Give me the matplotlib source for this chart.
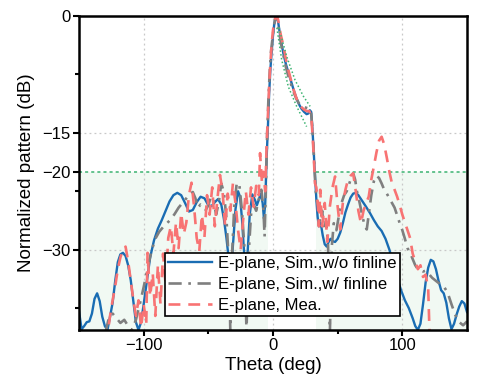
import matplotlib
matplotlib.use("Agg")
import matplotlib.pyplot as plt
import numpy as np

plt.rcParams['font.family'] = ['Liberation Sans', 'DejaVu Sans']

# ---- data ----
theta_blue = [-150,-148,-146,-144,-142,-140,-138,-136,-134,-132,-130,-128,-126,-124,-122,-120,-118,-116,-114,-112,
              -110,-108,-106,-104,-102,-100,-98,-95,-92,-89,-86,-83,-80,-77,-74,-71,-68,-65,-62,-59,-56,-53,-50,-47.5,
              -45,-42.5,-40,-38,-36,-34,-32.5,-31,-29,-27,-25.5,-24,-22.5,-21,-19.5,-18,-16,-14,-12.5,-11,-9.5,-8,-7,-6,
              -5,-4,-3,-2,-1,0,1,2,3,4,5,6,8,10,12,14,16,18,20,22,24,26,27.5,28.5,29.5,30.5,31.5,32.5,33.5,34.5,35.5,
              36.5,37.5,38.5,40,41.5,43,44.5,46,48,50,52,54,56,58,60,62,64,66,68,70,72,75,78,81,84,87,90,93,96,99,102,
              105,108,110,112,114,116,118,120,122,124,126,128,130,132,134,136,138,140,142,144,146,148,150]
db_blue = [-37.9,-40.2,-39.8,-39.3,-39.2,-38.2,-36.3,-35.6,-36.6,-38.6,-39.8,-40.3,-38.6,-36.8,-34.0,-31.6,-30.6,-30.4,-30.8,-32.0,
           -33.9,-36.6,-39.3,-40.3,-39.3,-37.0,-34.6,-31.0,-28.8,-27.3,-26.2,-25.0,-23.8,-23.0,-22.7,-23.0,-24.0,-25.1,-24.9,-23.9,-23.2,-23.4,-24.3,-24.4,
           -23.9,-23.5,-24.2,-26.0,-28.5,-31.5,-33.0,-29.5,-24.8,-22.5,-23.2,-26.0,-30.0,-33.5,-30.0,-25.5,-22.9,-23.6,-24.3,-23.6,-22.8,-24.0,-26.0,-24.0,
           -18.5,-14.5,-10.0,-6.8,-4.5,-2.5,-1.0,-0.2,0.0,-0.8,-1.9,-3.0,-4.8,-6.2,-7.3,-8.4,-9.5,-10.5,-11.3,-11.9,-12.3,-12.6,-12.5,-12.1,-12.3,-14.5,-17.5,-20.5,-23.5,-25.8,-27.0,
           -26.5,-27.2,-28.2,-29.3,-29.6,-29.0,-28.6,-28.9,-29.0,-28.6,-27.8,-26.6,-25.2,-24.2,-23.3,-22.8,-22.7,-23.0,-23.5,-24.0,-24.5,-25.3,-26.2,-27.0,-27.6,-28.6,-30.0,-31.8,-33.6,-35.2,-36.5,
           -37.5,-38.8,-39.8,-40.3,-39.5,-37.0,-34.2,-32.3,-31.3,-31.5,-32.5,-34.0,-35.2,-35.6,-36.8,-38.8,-40.2,-39.5,-38.3,-37.3,-36.6,-36.9,-38.0]

theta_gray = [-150,-130,-127,-124,-121,-118,-115,-112,-109,-106,-103,-100,-97,-94,-91,-88,-85,-82,-79,-76,-73,-70,-67,-64,-62,
              -60,-58,-56,-54,-52,-50,-48,-46,-44,-42,-40,-38,-36,-34,-33,-32,-30,-28,-26,-24,-22,-20.5,-19,-17,-15,-13,-11,-9,
              -7.5,-6.5,-5.5,-4.5,-3.5,-2.5,-1.5,0,1,2,3,4,5,6,8,10,12,14,16,18,20,22,24,26,28,29.5,30.5,31.5,32.5,33.5,35,36.5,
              38,39.5,41,42.5,44,45.5,47,49,51,53,55,57,59,61,62,63.5,65,67,69,71,72.5,74,76,78,80,82,84,86,88,90,92,94,96,98,
              100,102,104,106,108,110,112,114,116,118,120,123,126,129,132,135,138,141,144,147,150]
db_gray = [-41,-41,-38.8,-38.2,-38.8,-39.4,-39.0,-39.8,-40.3,-39.0,-37.0,-34.8,-32.4,-30.2,-28.6,-27.7,-27.1,-26.6,-26.1,-25.4,-24.6,-24.0,-23.4,-22.8,-22.6,
           -23.4,-24.6,-24.2,-24.4,-24.9,-24.3,-23.2,-23.6,-25.5,-24.0,-21.5,-22.6,-26.0,-32.0,-40.5,-32.0,-24.5,-21.4,-21.7,-25.0,-30.0,-40.5,-31.0,-25.5,-24.2,-25.0,-23.5,-22.3,
           -24.5,-28.3,-22.0,-15.0,-10.5,-7.0,-4.5,-2.3,-1.0,-0.2,0.0,-1.0,-2.3,-3.4,-5.0,-6.6,-7.8,-8.8,-9.8,-10.6,-11.2,-11.6,-11.7,-11.8,-11.9,-12.5,-14.5,-17.5,-21.0,-23.5,-24.4,-26.5,
           -25.0,-27.5,-26.3,-29.0,-40.5,-29.5,-26.6,-27.5,-25.6,-24.0,-23.0,-22.5,-21.5,-20.5,-20.2,-21.0,-22.6,-24.0,-25.6,-27.0,-27.4,-25.5,-23.0,-21.2,-20.5,-20.8,-21.5,-22.3,-22.8,-23.4,-24.0,-24.6,-25.6,-26.6,
           -27.5,-28.6,-29.8,-30.4,-31.2,-32.0,-32.5,-32.6,-32.8,-32.7,-33.0,-33.6,-34.0,-34.4,-34.7,-35.5,-37.0,-38.4,-39.3,-39.7,-39.2]

theta_mea = [-150,-128,-126,-124,-122,-120,-118,-116,-114,-112,-110,-108,-106,-104,-102,-100,-98,-97,-95,-93,-91,-89,-87,-85,-83,
             -81,-79,-77,-75,-73,-71,-69,-67,-65,-63,-61,-59,-57,-55,-53,-51,-49,-47,-45,-43,-41,-39,-37,-35,-33,-31,-29,-27,-25,
             -23,-21,-19,-17,-15,-13,-11,-10,-8.5,-7.5,-6,-5,-4,-3,-2,-1,0,1,2,3,4,5,6,8,10,12,14,16,18,20,22,24,26,28,29.5,30.5,
             31.5,32.5,33.5,34.5,35.5,36.5,38,40,42,44,46,48,50,52,54,56,58,60,62,64,66,68,70,72,74,76,78,80,82,84,86,88,90,92,94,
             96,98,100,102,104,106,108,110,112,114,116,118,120,121,123,150]
db_mea = [-41,-41,-38.5,-36.5,-34.7,-32.5,-31.0,-30.0,-29.6,-31.5,-34.0,-36.4,-38.5,-36.5,-40.0,-37.0,-39.5,-30.4,-36.0,-33.0,-38.5,-32.0,-37.0,-30.5,-34.5,
          -28.5,-27.0,-30.5,-26.5,-29.8,-25.3,-28.0,-26.5,-23.0,-21.4,-24.5,-28.5,-30.2,-25.5,-28.4,-23.0,-25.5,-22.0,-27.0,-23.5,-20.4,-22.5,-27.0,-22.8,-25.0,-21.5,-24.0,-27.5,-30.0,
          -26.0,-22.5,-25.5,-22.0,-24.5,-21.8,-23.0,-17.6,-21.5,-20.0,-22.5,-17.0,-13.0,-9.0,-6.0,-3.5,-1.8,-0.8,-0.1,0.0,-0.5,-1.5,-2.4,-3.8,-5.6,-7.0,-8.3,-9.5,-10.5,-11.3,-11.7,-12.0,-12.2,-12.2,-12.8,-15.0,
          -18.0,-21.5,-22.0,-23.8,-27.0,-22.3,-27.0,-24.0,-29.0,-24.4,-22.0,-20.6,-24.5,-27.4,-24.0,-22.3,-21.0,-20.5,-20.2,-22.5,-25.0,-26.6,-25.0,-24.0,-23.2,-21.0,-19.3,-17.5,-16.0,-15.5,-16.5,-18.2,-20.0,-21.5,-22.3,
          -23.2,-24.3,-25.5,-26.5,-27.5,-28.5,-30.5,-31.5,-32.5,-32.0,-33.5,-33.2,-35.0,-40.5,-41,-41]

# envelope guide curves near the main beam
theta_env1 = [3, 6.7, 11.9, 18.3, 26]
db_env1 = [-1.5, -5.6, -9.1, -11.6, -14.2]
theta_env2 = [4.5, 10.6, 17, 23.5, 28.7]
db_env2 = [-1.5, -5.2, -8.2, -10.3, -11.6]

sll_level = -20
beam_gap = (-4, 33)
labels = ['E-plane, Sim.,w/o finline', 'E-plane, Sim.,w/ finline', 'E-plane, Mea.']

# ---- figure ----
fig = plt.figure(figsize=(5.0, 3.81), dpi=100)
ax = fig.add_axes([0.158, 0.134, 0.776, 0.824])
xlo, xhi, ylo, yhi = -150, 150, -40.3, 0

# shaded low-sidelobe region
green = '#3cb371'
for a, b in [(xlo, beam_gap[0]), (beam_gap[1], xhi)]:
    ax.fill_between([a, b], [ylo, ylo], [sll_level, sll_level], color='#f1f9f3', zorder=0, lw=0)
    ax.plot([a, b], [sll_level, sll_level], color=green, ls=(0, (2, 2)), lw=1.1, zorder=1)

# grid
for gx in [-100, 0, 100]:
    ax.axvline(gx, color='#c8c8c8', ls=(0, (1.5, 2.5)), lw=0.9, zorder=0.5)
for gy in [-15, -30]:
    ax.axhline(gy, color='#c8c8c8', ls=(0, (1.5, 2.5)), lw=0.9, zorder=0.5)

l1, = ax.plot(theta_blue, db_blue, color='#1a6db3', lw=1.7, zorder=3, label=labels[0])
l2, = ax.plot(theta_gray, db_gray, color='#7f7f7f', lw=1.9, ls=(0, (5, 2.5, 1, 2.5)), zorder=3, label=labels[1])
l3, = ax.plot(theta_mea, db_mea, color='#f87373', lw=1.9, ls=(0, (4.5, 3.0)), zorder=3, label=labels[2])
ax.plot(theta_env1, db_env1, color=green, ls=(0, (1, 1.5)), lw=1.1, zorder=4)
ax.plot(theta_env2, db_env2, color=green, ls=(0, (1, 1.5)), lw=1.1, zorder=4)

ax.set_xlim(xlo, xhi)
ax.set_ylim(ylo, yhi)

ax.set_xticks([-100, 0, 100])
ax.set_xticks([-50, 50], minor=True)
ax.set_yticks([-30, -20, -15, 0])
ax.set_yticks([-37.5, -22.5, -7.5], minor=True)
ax.tick_params(axis='both', which='major', direction='out', length=4, width=1.5, labelsize=12, pad=2)
ax.tick_params(axis='both', which='minor', direction='out', length=3, width=1.5)
for t in ax.yaxis.get_major_ticks():
    if abs(t.get_loc() - sll_level) < 1e-9:
        t.tick1line.set_visible(False)
        t.label1.set_color('#e8212a')

for s in ax.spines.values():
    s.set_linewidth(1.8)
    s.set_color('black')
    s.set_zorder(6)

ax.set_xlabel('Theta (deg)', fontsize=13.5, labelpad=3)
ax.set_ylabel('Normalized pattern (dB)', fontsize=13.5, labelpad=5)

leg = ax.legend(handles=[l1, l2, l3], loc='lower left', bbox_to_anchor=(0.222, 0.043),
                fontsize=12, frameon=True, fancybox=False, framealpha=1, edgecolor='black',
                handlelength=2.6, handletextpad=0.4, labelspacing=0.36, borderpad=0.2, borderaxespad=0)
leg.get_frame().set_linewidth(1.2)
leg.set_zorder(5)

fig.savefig('out.png', dpi=100)
